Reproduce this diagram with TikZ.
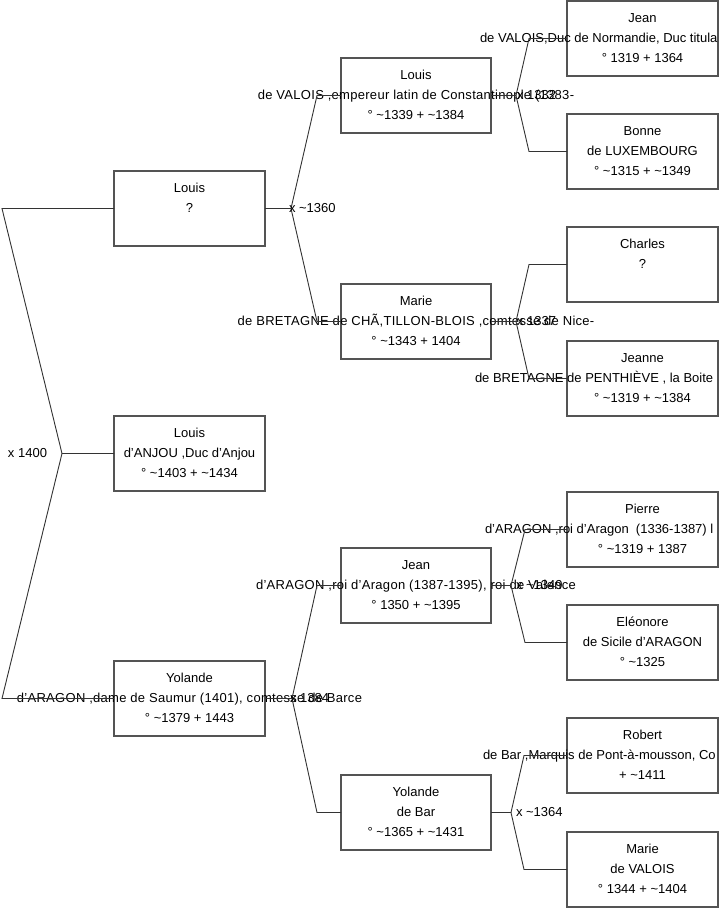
\documentclass[tikz,border=0pt]{standalone}
\usepackage{fontspec}
\setmainfont{Liberation Sans}
\usetikzlibrary{calc}
\definecolor{boxgray}{gray}{0.33}
\definecolor{linkgray}{gray}{0.2}
\newcommand\tl{\textasciitilde}
\tikzset{
  box/.style={draw=boxgray, line width=1.1pt, minimum width=151pt, minimum height=75pt, inner sep=0pt, outer sep=0pt},
  txt/.style={anchor=base, inner sep=0pt, outer sep=0pt, font=\fontsize{13}{15}\selectfont},
  widetxt/.style={txt, font=\fontsize{13}{15}\selectfont\addfontfeature{LetterSpace=2.2}},
  txtw/.style={txt, anchor=base west},
  lbl/.style={anchor=base west, inner sep=0pt, outer sep=0pt, font=\fontsize{13}{15}\selectfont},
  link/.style={draw=linkgray, line width=0.9pt}
}
\begin{document}
\begin{tikzpicture}[x=1pt,y=-1pt]
\useasboundingbox (0,0) rectangle (719,908);
\fill[white] (0,0) rectangle (719,908);
\clip (0,0) rectangle (719,908);

% column 1
\node[box] (A) at (189.5,208.5) {};
\node[txt] (Aa) at ($(A.north)+(0,21)$) {Louis};
\node[txt] (Ab) at ($(A.north)+(0,41)$) {?};

\node[box] (B) at (189.5,453.5) {};
\node[txt] (Ba) at ($(B.north)+(0,21)$) {Louis};
\node[txt] (Bb) at ($(B.north)+(0,41)$) {d'ANJOU ,Duc d'Anjou};
\node[txt] (Bc) at ($(B.north)+(0,61)$) {° \tl1403 + \tl1434};

\node[box] (C) at (189.5,698.5) {};
\node[txt] (Ca) at ($(C.north)+(0,21)$) {Yolande};
\node[widetxt] (Cb) at ($(C.north)+(0,41)$) {d'ARAGON ,dame de Saumur (1401), comtesse de Barce};
\node[txt] (Cc) at ($(C.north)+(0,61)$) {° \tl1379 + 1443};

% column 2
\node[box, minimum width=150pt] (D) at (416,95.5) {};
\node[txt] (Da) at ($(D.north)+(0,21)$) {Louis};
\node[widetxt] (Db) at ($(D.north)+(0,41)$) {de VALOIS ,empereur latin de Constantinople (1383-};
\node[txt] (Dc) at ($(D.north)+(0,61)$) {° \tl1339 + \tl1384};

\node[box, minimum width=150pt] (E) at (416,321.5) {};
\node[txt] (Ea) at ($(E.north)+(0,21)$) {Marie};
\node[widetxt] (Eb) at ($(E.north)+(0,41)$) {de BRETAGNE de CHÃ,TILLON-BLOIS ,comtesse de Nice-};
\node[txt] (Ec) at ($(E.north)+(0,61)$) {° \tl1343 + 1404};

\node[box, minimum width=150pt] (F) at (416,585.5) {};
\node[txt] (Fa) at ($(F.north)+(0,21)$) {Jean};
\node[widetxt] (Fb) at ($(F.north)+(0,41)$) {d'ARAGON ,roi d'Aragon (1387-1395), roi de Valence};
\node[txt] (Fc) at ($(F.north)+(0,61)$) {° 1350 + \tl1395};

\node[box, minimum width=150pt] (G) at (416,812.5) {};
\node[txt] (Ga) at ($(G.north)+(0,21)$) {Yolande};
\node[txt] (Gb) at ($(G.north)+(0,41)$) {de Bar};
\node[txt] (Gc) at ($(G.north)+(0,61)$) {° \tl1365 + \tl1431};

% column 3
\node[box] (H) at (642.5,38.5) {};
\node[txt] (Ha) at ($(H.north)+(0,21)$) {Jean};
\node[txtw] (Hb) at ($(H.north)+(-162.5,41)$) {de VALOIS,Duc de Normandie, Duc titula};
\node[txt] (Hc) at ($(H.north)+(0,61)$) {° 1319 + 1364};

\node[box] (I) at (642.5,151.5) {};
\node[txt] (Ia) at ($(I.north)+(0,21)$) {Bonne};
\node[txt] (Ib) at ($(I.north)+(0,41)$) {de LUXEMBOURG};
\node[txt] (Ic) at ($(I.north)+(0,61)$) {° \tl1315 + \tl1349};

\node[box] (J) at (642.5,264.5) {};
\node[txt] (Ja) at ($(J.north)+(0,21)$) {Charles};
\node[txt] (Jb) at ($(J.north)+(0,41)$) {?};

\node[box] (K) at (642.5,378.5) {};
\node[txt] (Ka) at ($(K.north)+(0,21)$) {Jeanne};
\node[txtw] (Kb) at ($(K.north)+(-167.5,41)$) {de BRETAGNE de PENTHIÈVE , la Boite};
\node[txt] (Kc) at ($(K.north)+(0,61)$) {° \tl1319 + \tl1384};

\node[box] (L) at (642.5,529.5) {};
\node[txt] (La) at ($(L.north)+(0,21)$) {Pierre};
\node[txtw] (Lb) at ($(L.north)+(-157.5,41)$) {d'ARAGON ,roi d'Aragon\ \ (1336-1387) l};
\node[txt] (Lc) at ($(L.north)+(0,61)$) {° \tl1319 + 1387};

\node[box] (M) at (642.5,642.5) {};
\node[txt] (Ma) at ($(M.north)+(0,21)$) {Eléonore};
\node[txt] (Mb) at ($(M.north)+(0,41)$) {de Sicile d'ARAGON};
\node[txt] (Mc) at ($(M.north)+(0,61)$) {° \tl1325};

\node[box] (N) at (642.5,755.5) {};
\node[txt] (Na) at ($(N.north)+(0,21)$) {Robert};
\node[txtw] (Nb) at ($(N.north)+(-159.5,41)$) {de Bar ,Marquis de Pont-à-mousson, Co};
\node[txt] (Nc) at ($(N.north)+(0,61)$) {+ \tl1411};

\node[box] (O) at (642.5,869.5) {};
\node[txt] (Oa) at ($(O.north)+(0,21)$) {Marie};
\node[txt] (Ob) at ($(O.north)+(0,41)$) {de VALOIS};
\node[txt] (Oc) at ($(O.north)+(0,61)$) {° 1344 + \tl1404};

% junction coordinates
\coordinate (jR) at ($(B.west)+(-52,0)$);
\coordinate (rA) at ($(A.west)+(-112,0)$);
\coordinate (rC) at ($(C.west)+(-112,0)$);
\coordinate (jA) at ($(A.east)+(26,0)$);
\coordinate (pD) at ($(D.west)+(-24,0)$);
\coordinate (pE) at ($(E.west)+(-24,0)$);
\coordinate (jC) at ($(C.east)+(27,0)$);
\coordinate (pF) at ($(F.west)+(-24,0)$);
\coordinate (pG) at ($(G.west)+(-24,0)$);
\coordinate (jD) at ($(D.east)+(25,0)$);
\coordinate (pH) at ($(H.west)+(-38,0)$);
\coordinate (pI) at ($(I.west)+(-38,0)$);
\coordinate (jE) at ($(E.east)+(25,0)$);
\coordinate (pJ) at ($(J.west)+(-38,0)$);
\coordinate (pK) at ($(K.west)+(-38,0)$);
\coordinate (jF) at ($(F.east)+(20,0)$);
\coordinate (pL) at ($(L.west)+(-42,0)$);
\coordinate (pM) at ($(M.west)+(-42,0)$);
\coordinate (jG) at ($(G.east)+(20,0)$);
\coordinate (pN) at ($(N.west)+(-43,0)$);
\coordinate (pO) at ($(O.west)+(-43,0)$);

% connectors
\draw[link] (A.west) -- (rA) -- (jR) -- (B.west);
\draw[link] (jR) -- (rC) -- (C.west);
\draw[link] (A.east) -- (jA) -- (pD) -- (D.west);
\draw[link] (jA) -- (pE) -- (E.west);
\draw[link] (C.east) -- (jC) -- (pF) -- (F.west);
\draw[link] (jC) -- (pG) -- (G.west);
\draw[link] (D.east) -- (jD) -- (pH) -- (H.west);
\draw[link] (jD) -- (pI) -- (I.west);
\draw[link] (E.east) -- (jE) -- (pJ) -- (J.west);
\draw[link] (jE) -- (pK) -- (K.west);
\draw[link] (F.east) -- (jF) -- (pL) -- (L.west);
\draw[link] (jF) -- (pM) -- (M.west);
\draw[link] (G.east) -- (jG) -- (pN) -- (N.west);
\draw[link] (jG) -- (pO) -- (O.west);

% marriage labels
\node[lbl] (mR) at ($(B.west)+(-106,3.5)$) {x 1400};
\node[lbl] (mA) at ($(A.east)+(24,3.5)$) {x \tl1360};
\node[lbl] (mC) at ($(C.east)+(25,3.5)$) {x 1384};
\node[lbl] (mD) at ($(D.east)+(26,3.5)$) {x 1332};
\node[lbl] (mE) at ($(E.east)+(26,3.5)$) {x 1337};
\node[lbl] (mF) at ($(F.east)+(25,3.5)$) {x \tl1349};
\node[lbl] (mG) at ($(G.east)+(25,3.5)$) {x \tl1364};
\end{tikzpicture}
\end{document}
